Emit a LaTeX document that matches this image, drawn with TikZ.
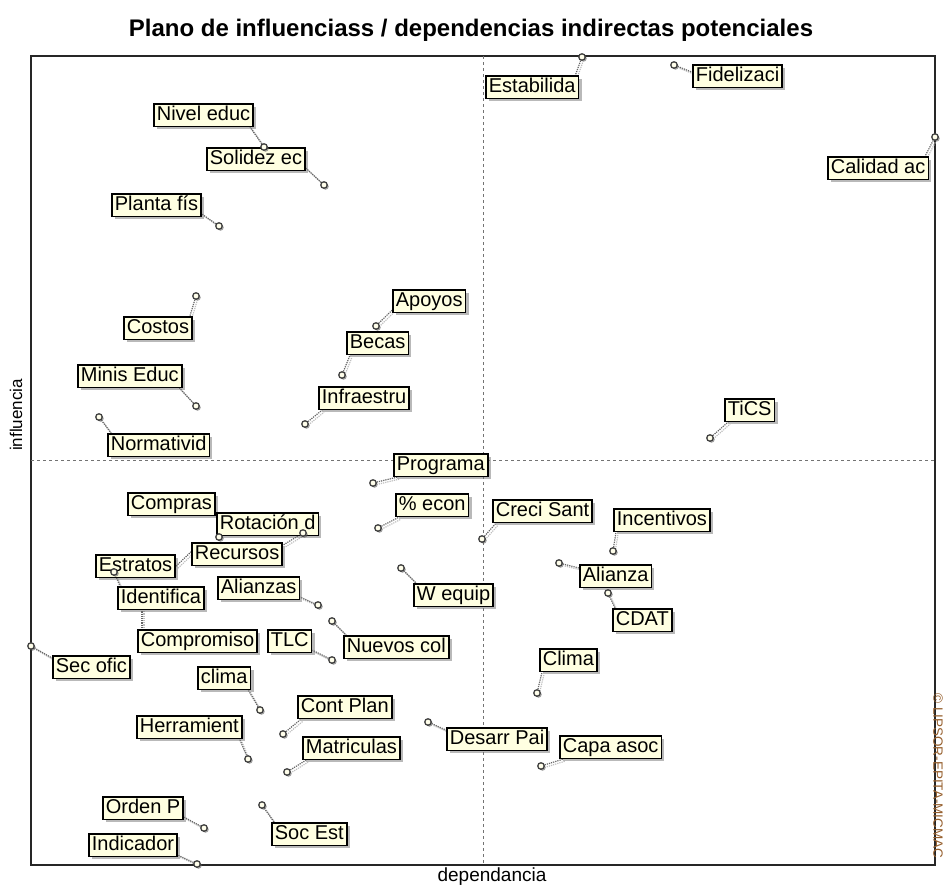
\documentclass[tikz,border=0pt]{standalone}
\usepackage{fontspec}
\setmainfont{Liberation Sans}
\usetikzlibrary{shadows}
\definecolor{labfill}{RGB}{255,255,225}
\definecolor{wmark}{RGB}{150,95,45}
\pgfdeclarelayer{bg}
\pgfdeclarelayer{fg}
\pgfsetlayers{bg,main,fg}
\tikzset{
  lab/.style={draw=black, line width=1.7pt, fill=labfill, anchor=north west,
    inner xsep=3pt, inner ysep=1.5pt, text height=15pt, text depth=4.5pt,
    font=\fontsize{20}{22}\selectfont,
    drop shadow={shadow xshift=3pt, shadow yshift=-3pt, fill=black!55, opacity=0.5}},
  pt/.style={circle, minimum size=6.5pt, inner sep=0pt, draw=black!75, line width=1.3pt,
    fill=yellow!8, drop shadow={shadow xshift=1.5pt, shadow yshift=-1.5pt, fill=black!60, opacity=0.6}},
  con/.style={densely dotted, line width=1.2pt, draw=black!60,
    preaction={draw=black!25, densely dotted, line width=1.2pt, transform canvas={xshift=2pt, yshift=-2pt}}},
  axisline/.style={dashed, draw=black!55, line width=0.7pt},
}
\begin{document}
\begin{tikzpicture}[x=1pt, y=-1pt]
\useasboundingbox (0,0) rectangle (943,886);
% title
\node[font=\bfseries\fontsize{24}{28}\selectfont] (title) at (471,30) {Plano de influenciass / dependencias indirectas potenciales};
% frame
\coordinate (fnw) at (31,56);
\coordinate (fse) at (935,865);
\coordinate (vt) at (483,56);
\coordinate (vb) at (483,865);
\coordinate (hl) at (31,460);
\coordinate (hr) at (935,460);
\begin{pgfonlayer}{bg}
\draw[line width=1.6pt, black!85] (fnw) rectangle (fse);
\draw[axisline] (vt) -- (vb);
\draw[axisline] (hl) -- (hr);
\end{pgfonlayer}
% axis labels
\node[font=\fontsize{17}{19}\selectfont, rotate=90] (ylab) at (16,415) {influencia};
\node[font=\fontsize{19}{21}\selectfont] (xlab) at (492,877) {dependancia};
\node[font=\fontsize{13.5}{15}\selectfont, rotate=-90, text=wmark] (wm) at (938,776) {© LIPSOR-EPITA-MICMAC};

% points
\begin{pgfonlayer}{fg}
\node[pt] (pEstab) at (582,57) {};
\node[pt] (pFidel) at (674,65) {};
\node[pt] (pCalid) at (935,137) {};
\node[pt] (pNivel) at (264,147) {};
\node[pt] (pSolid) at (324,185) {};
\node[pt] (pPlant) at (219,226) {};
\node[pt] (pCost) at (196,296) {};
\node[pt] (pMinis) at (196,406) {};
\node[pt] (pNorm) at (99,417) {};
\node[pt] (pApoy) at (376,326) {};
\node[pt] (pBecas) at (342,375) {};
\node[pt] (pInfra) at (305,424) {};
\node[pt] (pTics) at (710,438) {};
\node[pt] (pProg) at (373,483) {};
\node[pt] (pEcon) at (378,528) {};
\node[pt] (pCreci) at (482,539) {};
\node[pt] (pIncen) at (613,551) {};
\node[pt] (pAlza) at (559,563) {};
\node[pt] (pCdat) at (608,593) {};
\node[pt] (pWeq) at (401,568) {};
\node[pt] (pRot) at (219,537) {};
\node[pt] (pRecur) at (303,533) {};
\node[pt] (pIdent) at (114,572) {};
\node[pt] (pAlzs) at (318,605) {};
\node[pt] (pTlc) at (332,660) {};
\node[pt] (pNuev) at (332,621) {};
\node[pt] (pSec) at (31,646) {};
\node[pt] (pclim) at (260,710) {};
\node[pt] (pCont) at (283,734) {};
\node[pt] (pHerr) at (248,759) {};
\node[pt] (pMatr) at (287,772) {};
\node[pt] (pDesa) at (428,722) {};
\node[pt] (pClim) at (537,693) {};
\node[pt] (pCapa) at (541,766) {};
\node[pt] (pOrden) at (204,828) {};
\node[pt] (pSoc) at (262,805) {};
\node[pt] (pIndic) at (197,864) {};
\end{pgfonlayer}
\coordinate (cRecW) at (193,550);
\coordinate (cIdS) at (142,607);

% labels
\path
 (485,75) node[lab] (lEstab) {Estabilida}
 (692,64) node[lab] (lFidel) {Fidelizaci}
 (827,156) node[lab] (lCalid) {Calidad ac}
 (153,103) node[lab] (lNivel) {Nivel educ}
 (206,147) node[lab] (lSolid) {Solidez ec}
 (111,193) node[lab] (lPlant) {Planta fís}
 (123,316) node[lab] (lCost) {Costos}
 (77,364) node[lab] (lMinis) {Minis Educ}
 (107,433) node[lab] (lNorm) {Normativid}
 (392,289) node[lab] (lApoy) {Apoyos}
 (346,331) node[lab] (lBecas) {Becas}
 (318,386) node[lab] (lInfra) {Infraestru}
 (724,398) node[lab] (lTics) {TiCS}
 (393,453) node[lab] (lProg) {Programa}
 (395,493) node[lab] (lEcon) {\% econ}
 (492,499) node[lab] (lCreci) {Creci Sant}
 (613,508) node[lab] (lIncen) {Incentivos}
 (579,564) node[lab] (lAlza) {Alianza}
 (612,608) node[lab] (lCdat) {CDAT}
 (413,583) node[lab] (lWeq) {W equip}
 (127,492) node[lab] (lComp) {Compras}
 (216,512) node[lab] (lRot) {Rotación d}
 (191,542) node[lab] (lRecur) {Recursos}
 (95,554) node[lab] (lEstr) {Estratos}
 (117,586) node[lab] (lIdent) {Identifica}
 (217,576) node[lab] (lAlzs) {Alianzas}
 (137,629) node[lab] (lCompr) {Compromiso}
 (267,629) node[lab] (lTlc) {TLC}
 (343,635) node[lab] (lNuev) {Nuevos col}
 (52,655) node[lab] (lSec) {Sec ofic}
 (197,666) node[lab] (lclim) {clima}
 (297,695) node[lab] (lCont) {Cont Plan}
 (136,715) node[lab] (lHerr) {Herramient}
 (302,736) node[lab] (lMatr) {Matriculas}
 (446,727) node[lab] (lDesa) {Desarr Pai}
 (539,648) node[lab] (lClim) {Clima}
 (559,735) node[lab] (lCapa) {Capa asoc}
 (102,796) node[lab] (lOrden) {Orden P}
 (271,822) node[lab] (lSoc) {Soc Est}
 (88,833) node[lab] (lIndic) {Indicador};

% connectors
\begin{pgfonlayer}{bg}
\draw[con] (pEstab) -- ([xshift=-4pt]lEstab.north east);
\draw[con] (pFidel) -- ([yshift=4pt]lFidel.west);
\draw[con] (pCalid) -- ([xshift=-4pt]lCalid.north east);
\draw[con] (pNivel) -- ([xshift=-4pt]lNivel.south east);
\draw[con] (pSolid) -- ([yshift=3pt]lSolid.south east);
\draw[con] (pPlant) -- ([yshift=3pt]lPlant.south east);
\draw[con] (pCost) -- ([xshift=-3pt]lCost.north east);
\draw[con] (pMinis) -- ([xshift=-3pt]lMinis.south east);
\draw[con] (pNorm) -- ([xshift=4pt]lNorm.north west);
\draw[con] (pApoy) -- ([yshift=3pt]lApoy.south west);
\draw[con] (pBecas) -- ([xshift=4pt]lBecas.south west);
\draw[con] (pInfra) -- ([xshift=4pt]lInfra.south west);
\draw[con] (pTics) -- ([xshift=4pt]lTics.south west);
\draw[con] (pProg) -- ([xshift=4pt]lProg.south west);
\draw[con] (pEcon) -- ([xshift=4pt]lEcon.south west);
\draw[con] (pCreci) -- ([xshift=4pt]lCreci.south west);
\draw[con] (pIncen) -- ([xshift=3pt]lIncen.south west);
\draw[con] (pAlza) -- ([yshift=-4pt]lAlza.north west);
\draw[con] (pCdat) -- ([xshift=3pt]lCdat.north west);
\draw[con] (pWeq) -- ([xshift=3pt]lWeq.north west);
\draw[con] (pRecur) -- ([yshift=-3pt]lRecur.north east);
\draw[con] (lEstr.east) -- (cRecW);
\draw[con] (pIdent) -- ([xshift=3pt]lIdent.north west);
\draw[con] (pAlzs) -- ([yshift=3pt]lAlzs.south east);
\draw[con] (cIdS) -- ([xshift=5pt]lCompr.north west);
\draw[con] (pTlc) -- ([yshift=3pt]lTlc.south east);
\draw[con] (pNuev) -- ([xshift=3pt]lNuev.north west);
\draw[con] (pSec) -- ([yshift=-3pt]lSec.north west);
\draw[con] (pclim) -- ([xshift=-3pt]lclim.south east);
\draw[con] (pCont) -- ([xshift=4pt]lCont.south west);
\draw[con] (pHerr) -- ([xshift=-3pt]lHerr.south east);
\draw[con] (pMatr) -- ([xshift=4pt]lMatr.south west);
\draw[con] (pDesa) -- ([yshift=-3pt]lDesa.north west);
\draw[con] (pClim) -- ([xshift=3pt]lClim.south west);
\draw[con] (pCapa) -- ([xshift=4pt]lCapa.south west);
\draw[con] (pOrden) -- ([yshift=3pt]lOrden.south east);
\draw[con] (pSoc) -- ([xshift=3pt]lSoc.north west);
\draw[con] (pIndic) -- ([yshift=2pt]lIndic.south east);
\end{pgfonlayer}
\end{tikzpicture}
\end{document}
